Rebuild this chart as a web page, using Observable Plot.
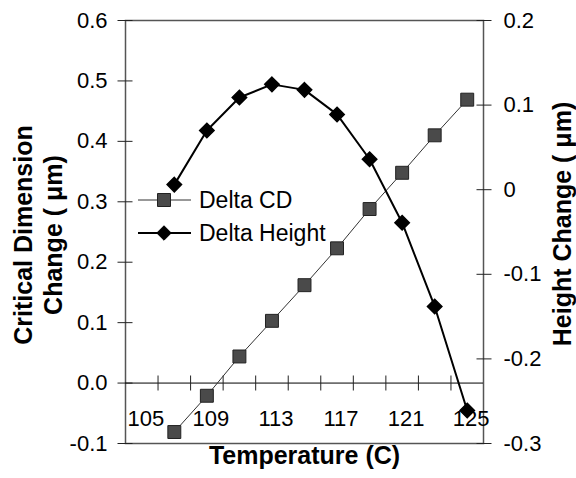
<!DOCTYPE html>
<html>
<head>
<meta charset="utf-8">
<script src="https://cdn.jsdelivr.net/npm/d3@7"></script>
<script src="https://cdn.jsdelivr.net/npm/@observablehq/plot@0.6"></script>
<style>
  html, body { margin: 0; padding: 0; background: #fff; }
  #chart { width: 576px; height: 478px; }
</style>
</head>
<body>
<div id="chart"></div>
<script>
// ---- data ----
const temperatures = [107, 109, 111, 113, 115, 117, 119, 121, 123, 125];
const deltaCD = [-0.081, -0.021, 0.044, 0.103, 0.162, 0.223, 0.288, 0.348, 0.41, 0.469];
const deltaHeight = [0.006, 0.07, 0.109, 0.1245, 0.118, 0.089, 0.036, -0.039, -0.138, -0.261];
const xLabels = [105, 109, 113, 117, 121, 125];
const xTickMarks = [106, 108, 110, 112, 114, 116, 118, 120, 122, 124];
const leftTicks = [-0.1, 0, 0.1, 0.2, 0.3, 0.4, 0.5, 0.6];
const rightTicks = [-0.3, -0.2, -0.1, 0, 0.1, 0.2];
const leftDomain = [-0.1, 0.6];
const rightDomain = [-0.3, 0.2];
const seriesNames = ["Delta CD", "Delta Height"];

// map right-axis values into left-axis units
const k = (leftDomain[1] - leftDomain[0]) / (rightDomain[1] - rightDomain[0]);
const toLeft = h => leftDomain[0] + (h - rightDomain[0]) * k;
const toRight = v => rightDomain[0] + (v - leftDomain[0]) / k;

const cdRows = temperatures.map((t, i) => ({t, v: deltaCD[i]}));
const hRows = temperatures.map((t, i) => ({t, v: toLeft(deltaHeight[i])}));

const font = "'Liberation Sans', Arial, Helvetica, sans-serif";
const fmtRight = v => { const r = Math.round(toRight(v) * 10) / 10; return String(Object.is(r, -0) ? 0 : r); };

const svg = Plot.plot({
  width: 576,
  height: 478,
  marginLeft: 125,
  marginRight: 93,
  marginTop: 20,
  marginBottom: 35,
  style: {fontFamily: font, fontSize: "22px", color: "#000", background: "#fff"},
  x: {domain: [104, 126]},
  y: {domain: leftDomain},
  marks: [
    Plot.frame({stroke: "#555", strokeWidth: 1.5}),
    Plot.ruleY([0], {stroke: "#000", strokeWidth: 1}),
    // left axis: ticks crossing the axis, then labels
    Plot.axisY({anchor: "left", ticks: leftTicks, tickSize: 15, dx: 7.5, fill: "none", stroke: "#222", label: null}),
    Plot.axisY({anchor: "left", ticks: leftTicks, tickSize: 0, tickPadding: 18, tickFormat: v => v.toFixed(1), label: null}),
    // right axis
    Plot.axisY({anchor: "right", ticks: rightTicks.map(toLeft), tickSize: 15, dx: -7.5, fill: "none", stroke: "#222", label: null}),
    Plot.axisY({anchor: "right", ticks: rightTicks.map(toLeft), tickSize: 0, tickPadding: 20, tickFormat: fmtRight, label: null}),
    // x axis ticks on the zero line, labels below it
    Plot.axisX({anchor: "bottom", ticks: xTickMarks, tickSize: 15, dy: -67.5, fill: "none", stroke: "#222", label: null}),
    Plot.axisX({anchor: "bottom", ticks: xLabels, tickSize: 0, tickPadding: 0, dy: -33, dx: 4, tickFormat: d => String(d), label: null}),
    // series
    Plot.line(cdRows, {x: "t", y: "v", stroke: "#333", strokeWidth: 1}),
    Plot.dot(cdRows, {x: "t", y: "v", symbol: "square", r: 7.3, fill: "#4a4a4a", stroke: "#222", strokeWidth: 1}),
    Plot.line(hRows, {x: "t", y: "v", stroke: "#000", strokeWidth: 2}),
    Plot.dot(hRows, {x: "t", y: "v", symbol: "diamond2", r: 6.5, fill: "#000", stroke: "#000"}),
    // titles
    Plot.text(["Temperature (C)"], {frameAnchor: "bottom", dy: 20, textAnchor: "middle", fontWeight: "bold", fontSize: 25}),
    Plot.text(["Critical Dimension"], {frameAnchor: "left", dx: -102, dy: 3, rotate: -90, textAnchor: "middle", fontWeight: "bold", fontSize: 25}),
    Plot.text(["Change ( \u03bcm)"], {frameAnchor: "left", dx: -72, dy: 3, rotate: -90, textAnchor: "middle", fontWeight: "bold", fontSize: 25}),
    Plot.text(["Height Change ( \u03bcm)"], {frameAnchor: "right", dx: 79, dy: -8, rotate: -90, textAnchor: "middle", fontWeight: "bold", fontSize: 25})
  ]
});

// legend inside the plot area
const sel = d3.select(svg);
const leg = sel.append("g").attr("font-family", font).attr("font-size", 23).attr("text-anchor", "start");
const rows = [
  {name: seriesNames[0], y: 200, stroke: "#333", sw: 1, sym: d3.symbolSquare, size: 169, fill: "#4a4a4a", mstroke: "#222"},
  {name: seriesNames[1], y: 233, stroke: "#000", sw: 2, sym: d3.symbolDiamond2, size: 133, fill: "#000", mstroke: "#000"}
];
rows.forEach(r => {
  leg.append("line").attr("x1", 138).attr("x2", 191).attr("y1", r.y).attr("y2", r.y)
    .attr("stroke", r.stroke).attr("stroke-width", r.sw);
  leg.append("path").attr("d", d3.symbol(r.sym, r.size)()).attr("transform", `translate(164,${r.y})`)
    .attr("fill", r.fill).attr("stroke", r.mstroke);
  leg.append("text").attr("x", 199).attr("y", r.y).attr("dy", "0.35em").attr("fill", "#000")
    .attr("text-anchor", "start").text(r.name);
});

document.getElementById("chart").appendChild(svg);
</script>
</body>
</html>
